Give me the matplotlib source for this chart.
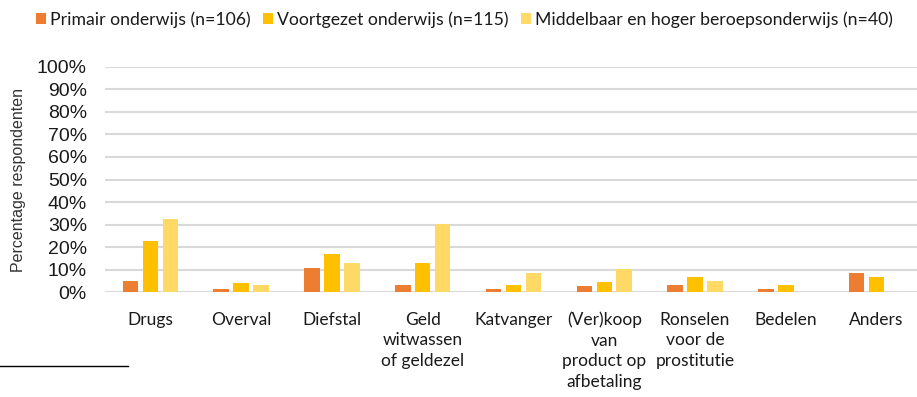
import numpy as np
import matplotlib
matplotlib.use("Agg")
import matplotlib.pyplot as plt
from matplotlib.lines import Line2D

categories = ["Drugs", "Overval", "Diefstal", "Geld\nwitwassen\nof geldezel",
              "Katvanger", "(Ver)koop\nvan\nproduct op\nafbetaling",
              "Ronselen\nvoor de\nprostitutie", "Bedelen", "Anders"]
series_names = ["Primair onderwijs (n=106)", "Voortgezet onderwijs (n=115)",
                "Middelbaar en hoger beroepsonderwijs (n=40)"]
primair = [5.0, 1.5, 10.9, 3.2, 1.5, 2.7, 3.2, 1.5, 8.5]
voortgezet = [22.7, 4.2, 16.8, 13.1, 3.2, 4.4, 6.8, 3.2, 6.8]
mbo_hbo = [32.7, 3.2, 13.1, 30.4, 8.4, 10.3, 5.0, 0.0, 0.0]
y_ticks = list(range(0, 101, 10))
colors = ["#ED7D31", "#FFC000", "#FFD966"]

fig = plt.figure(figsize=(9.17, 3.97), dpi=100)
ax = fig.add_axes([105 / 917, 1 - 292.3 / 397, 812 / 917, 225.6 / 397])

x = np.arange(len(categories))
width = 0.171
step = 0.22
for i, vals in enumerate([primair, voortgezet, mbo_hbo]):
    ax.bar(x + (i - 1) * step, vals, width, color=colors[i],
           label=series_names[i], zorder=3)

ax.set_xlim(-0.5, 8.445)
ax.set_ylim(0, 100)
ax.set_yticks(y_ticks)
ax.set_yticklabels([f"{t}%" for t in y_ticks], fontsize=14,
                   family="Liberation Sans", color="#1a1a1a")
ax.set_xticks(x)
ax.set_xticklabels(categories, fontsize=12.5, family="Lato", color="#1a1a1a",
                   linespacing=1.35, va="top")
ax.tick_params(axis="y", length=0, pad=13)
ax.tick_params(axis="x", length=0, pad=14)
ax.yaxis.grid(True, color="#d9d9d9", linewidth=1.5, zorder=0)
ax.set_axisbelow(True)
for s in ax.spines.values():
    s.set_visible(False)

fig.text(19 / 917, 1 - 180 / 397, "Percentage respondenten", rotation=90,
         ha="center", va="center", fontsize=11.5, family="Liberation Sans",
         color="#333333")

leg = fig.legend(loc="upper left", bbox_to_anchor=(36 / 917, 1 - 11 / 397),
                 ncol=3, frameon=False, prop={"family": "Lato", "size": 12.7},
                 handlelength=0.57, handleheight=0.57, handletextpad=0.23,
                 columnspacing=0.7, borderaxespad=0, borderpad=0)
for t in leg.get_texts():
    t.set_color("#1a1a1a")

# footnote separator line
fig.add_artist(Line2D([0, 128 / 917], [1 - 366 / 397, 1 - 366 / 397],
                      color="black", linewidth=1))

fig.savefig("out.png", dpi=100)
